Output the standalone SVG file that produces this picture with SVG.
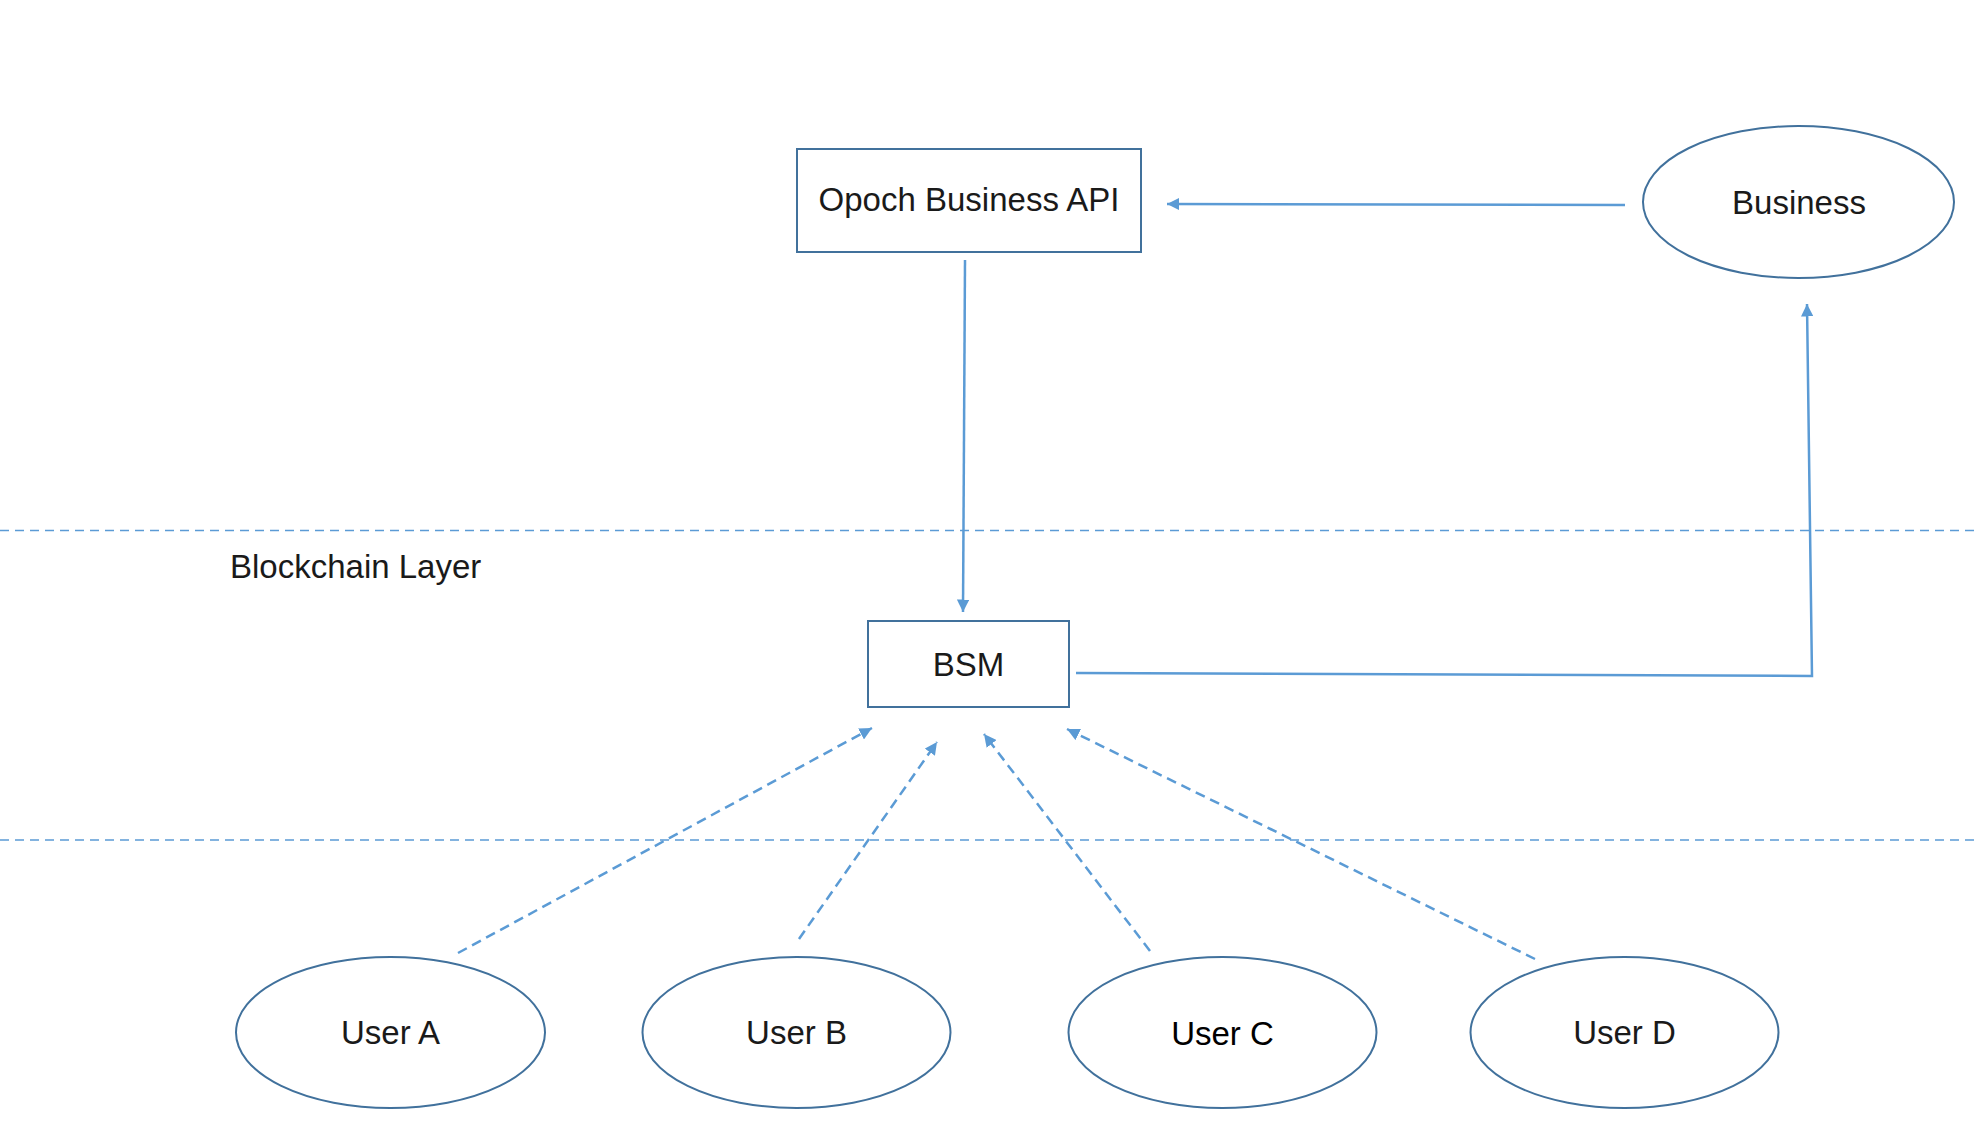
<svg xmlns="http://www.w3.org/2000/svg" width="1976" height="1122" viewBox="0 0 1976 1122">
<defs>
<style>
.node{fill:#ffffff;stroke:#41719C;stroke-width:2}
.lbl{font-family:"Liberation Sans",Arial,sans-serif;font-size:33px;fill:#1a1a1a;text-anchor:middle}
.conn{fill:none;stroke:#5B9BD5;stroke-width:2.5}
.dash{stroke-dasharray:10 6}
.layer{fill:none;stroke:#5B9BD5;stroke-width:1.6;stroke-dasharray:9 6}
</style>
<marker id="arr" viewBox="0 0 10 10" refX="10" refY="5" markerWidth="5" markerHeight="5" orient="auto" markerUnits="strokeWidth">
<path d="M0,0 L10,5 L0,10 z" fill="#5B9BD5"/>
</marker>
</defs>
<rect width="1976" height="1122" fill="#ffffff"/>
<g id="layers">
<line class="layer" x1="0" y1="530.5" x2="1976" y2="530.5"/>
<line class="layer" x1="0" y1="840" x2="1976" y2="840"/>
<text class="lbl" x="230" y="578" style="text-anchor:start">Blockchain Layer</text>
</g>
<g id="connectors">
<line class="conn" x1="1625" y1="205" x2="1167" y2="204" marker-end="url(#arr)"/>
<line class="conn" x1="965" y1="260" x2="963" y2="612" marker-end="url(#arr)"/>
<polyline class="conn" points="1076,673 1812,676 1807,304" marker-end="url(#arr)"/>
<line class="conn dash" x1="458" y1="953" x2="872" y2="728" marker-end="url(#arr)"/>
<line class="conn dash" x1="799" y1="939" x2="937" y2="742" marker-end="url(#arr)"/>
<line class="conn dash" x1="1150" y1="951" x2="984" y2="734" marker-end="url(#arr)"/>
<line class="conn dash" x1="1535" y1="959" x2="1067" y2="729" marker-end="url(#arr)"/>
</g>
<g id="opoch-api">
<rect class="node" x="797" y="149" width="344" height="103"/>
<text class="lbl" x="969" y="211">Opoch Business API</text>
</g>
<g id="business">
<ellipse class="node" cx="1798.5" cy="202" rx="155.5" ry="76"/>
<text class="lbl" x="1799" y="214">Business</text>
</g>
<g id="bsm">
<rect class="node" x="868" y="621" width="201" height="86"/>
<text class="lbl" x="968.5" y="676">BSM</text>
</g>
<g id="user-a">
<ellipse class="node" cx="390.5" cy="1032.5" rx="154.5" ry="75.5"/>
<text class="lbl" x="390.5" y="1044">User A</text>
</g>
<g id="user-b">
<ellipse class="node" cx="796.5" cy="1032.5" rx="154" ry="75.5"/>
<text class="lbl" x="796.5" y="1044">User B</text>
</g>
<g id="user-c">
<ellipse class="node" cx="1222.5" cy="1032.5" rx="154" ry="75.5"/>
<text class="lbl" x="1222.5" y="1045" style="fill:#000000">User C</text>
</g>
<g id="user-d">
<ellipse class="node" cx="1624.5" cy="1032.5" rx="154" ry="75.5"/>
<text class="lbl" x="1624.5" y="1044">User D</text>
</g>
</svg>
